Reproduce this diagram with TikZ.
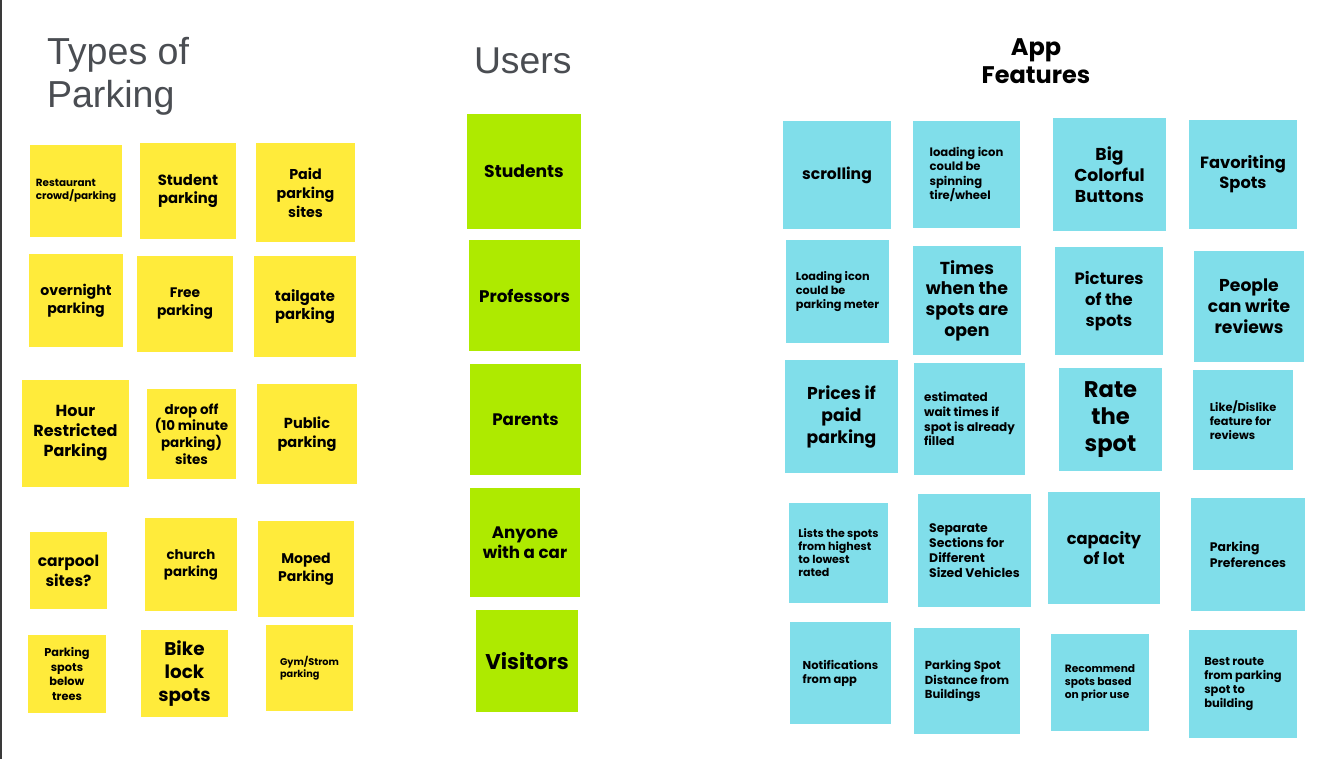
\documentclass[tikz,border=0pt]{standalone}
\usepackage{fontspec}
\setmainfont{Liberation Sans}
\newfontfamily\notefont{Poppins}
\definecolor{noteyellow}{HTML}{FFEB3B}
\definecolor{notegreen}{HTML}{AEEA00}
\definecolor{notecyan}{HTML}{80DEEA}
\definecolor{titlegray}{HTML}{4A4D52}
\definecolor{edgegray}{HTML}{3A3A3A}
\tikzset{
  stickybase/.style={inner sep=0pt, outer sep=0pt, text=black, align=center},
  yellownote/.style={stickybase, fill=noteyellow},
  greennote/.style={stickybase, fill=notegreen},
  cyannote/.style={stickybase, fill=notecyan},
  leftnote/.style={align=left},
  titletext/.style={inner sep=0pt, outer sep=0pt, text=titlegray, align=left, anchor=north west},
}
% #1 name, #2 x1, #3 y1, #4 x2, #5 y2, #6 style, #7 font size pt, #8 skip pt, #9 text
\newcommand\stickynote[9]{%
  \node[#6, minimum width={(#4-#2)*0.75pt}, minimum height={(#5-#3)*0.75pt},
        font={\notefont\bfseries\fontsize{#7pt}{#8pt}\selectfont}]
    (#1) at ({(#2+#4)/2},{(#3+#5)/2}) {#9};}
\begin{document}
\begin{tikzpicture}[x=0.75pt, y=-0.75pt]
\useasboundingbox (0,0) rectangle (1326,759);
\fill[white] (0,0) rectangle (1326,759);
\fill[edgegray] (0,0) rectangle (2,759);

% titles
\node[titletext, font={\fontsize{28.2pt}{32.25pt}\selectfont}] (ttypes) at (47,37) {Types of\\Parking};
\node[titletext, font={\fontsize{28pt}{32.25pt}\selectfont}] (tusers) at (474,48) {Users};
\node[inner sep=0pt, outer sep=0pt, anchor=north, align=center,
      font={\notefont\bfseries\fontsize{18pt}{21pt}\selectfont}] (tapp) at (1036,39) {App\\Features};

% types of parking
\stickynote{rest}{30}{145}{122}{237}{yellownote,leftnote}{7.8}{9.75}{Restaurant\\crowd/parking}
\stickynote{student}{140}{143}{236}{239}{yellownote}{11.1}{13.5}{Student\\parking}
\stickynote{paid}{256}{143}{355}{242}{yellownote}{10.7}{14.25}{Paid\\parking\\sites}
\stickynote{overnight}{29}{254}{123}{347}{yellownote}{10.6}{13.5}{overnight\\parking}
\stickynote{free}{137}{256}{233}{352}{yellownote}{10.35}{13.5}{Free\\parking}
\stickynote{tailgate}{254}{256}{356}{357}{yellownote}{11.1}{13.5}{tailgate\\parking}
\stickynote{hour}{22}{380}{129}{487}{yellownote}{12}{15}{Hour\\Restricted\\Parking}
\stickynote{dropoff}{147}{389}{236}{479}{yellownote}{10.1}{12.4}{drop off\\(10 minute\\parking)\\sites}
\stickynote{public}{257}{384}{357}{484}{yellownote}{10.9}{14.25}{Public\\parking}
\stickynote{carpool}{30}{532}{107}{609}{yellownote}{11.6}{15}{carpool\\sites?}
\stickynote{church}{145}{518}{237}{611}{yellownote}{10}{12.75}{church\\parking}
\stickynote{moped}{258}{521}{354}{617}{yellownote}{10.5}{13.5}{Moped\\Parking}
\stickynote{trees}{28}{635}{106}{713}{yellownote}{8.5}{10.9}{Parking\\spots\\below\\trees}
\stickynote{bike}{141}{630}{228}{717}{yellownote}{13.8}{17.25}{Bike\\lock\\spots}
\stickynote{gym}{266}{625}{353}{711}{yellownote,leftnote}{7.3}{9}{Gym/Strom\\parking}

% users
\stickynote{students}{467}{114}{581}{229}{greennote}{12.9}{15}{Students}
\stickynote{professors}{469}{240}{580}{351}{greennote}{12.6}{15}{Professors}
\stickynote{parents}{470}{364}{581}{475}{greennote}{12.5}{15}{Parents}
\stickynote{anyone}{470}{488}{580}{597}{greennote}{12.5}{15}{Anyone\\with a car}
\stickynote{visitors}{476}{610}{578}{712}{greennote}{16}{18}{Visitors}

% app features
\stickynote{scrolling}{783}{121}{891}{229}{cyannote}{11.7}{13}{scrolling}
\stickynote{spinning}{913}{121}{1020}{228}{cyannote,leftnote}{8.7}{10.7}{loading icon\\could be\\spinning\\tire/wheel}
\stickynote{big}{1053}{118}{1166}{231}{cyannote}{12.9}{15.75}{Big\\Colorful\\Buttons}
\stickynote{fav}{1189}{120}{1297}{229}{cyannote}{12.2}{15}{Favoriting\\Spots}
\stickynote{meter}{786}{240}{889}{343}{cyannote,leftnote}{8.45}{10.5}{Loading icon\\could be\\parking meter}
\stickynote{times}{913}{246}{1021}{355}{cyannote}{13}{15.5}{Times\\when the\\spots are\\open}
\stickynote{pictures}{1055}{247}{1163}{355}{cyannote}{12.3}{15.5}{Pictures\\of the\\spots}
\stickynote{people}{1194}{251}{1304}{362}{cyannote}{12.9}{15.75}{People\\can write\\reviews}
\stickynote{prices}{785}{360}{898}{473}{cyannote}{12.9}{16.5}{Prices if\\paid\\parking}
\stickynote{wait}{914}{363}{1025}{475}{cyannote,leftnote}{9}{11}{estimated\\wait times if\\spot is already\\filled}
\stickynote{rate}{1059}{368}{1162}{471}{cyannote}{17}{20.25}{Rate\\the\\spot}
\stickynote{like}{1193}{370}{1293}{470}{cyannote,leftnote}{8.5}{10.3}{Like/Dislike\\feature for\\reviews}
\stickynote{lists}{789}{503}{888}{603}{cyannote,leftnote}{8.3}{9.75}{Lists the spots\\from highest\\to lowest\\rated}
\stickynote{separate}{918}{494}{1031}{607}{cyannote,leftnote}{9.3}{11.25}{Separate\\Sections for\\Different\\Sized Vehicles}
\stickynote{capacity}{1048}{492}{1160}{604}{cyannote}{12.2}{15}{capacity\\of lot}
\stickynote{prefs}{1191}{498}{1305}{611}{cyannote,leftnote}{9.3}{12}{Parking\\Preferences}
\stickynote{notif}{790}{622}{891}{724}{cyannote,leftnote}{8.6}{10.5}{Notifications\\from app}
\stickynote{distance}{914}{628}{1020}{734}{cyannote,leftnote}{8.7}{10.9}{Parking Spot\\Distance from\\Buildings}
\stickynote{recommend}{1051}{634}{1149}{731}{cyannote,leftnote}{8}{9.75}{Recommend\\spots based\\on prior use}
\stickynote{route}{1189}{630}{1297}{738}{cyannote,leftnote}{8.6}{10.7}{Best route\\from parking\\spot to\\building}
\end{tikzpicture}
\end{document}
